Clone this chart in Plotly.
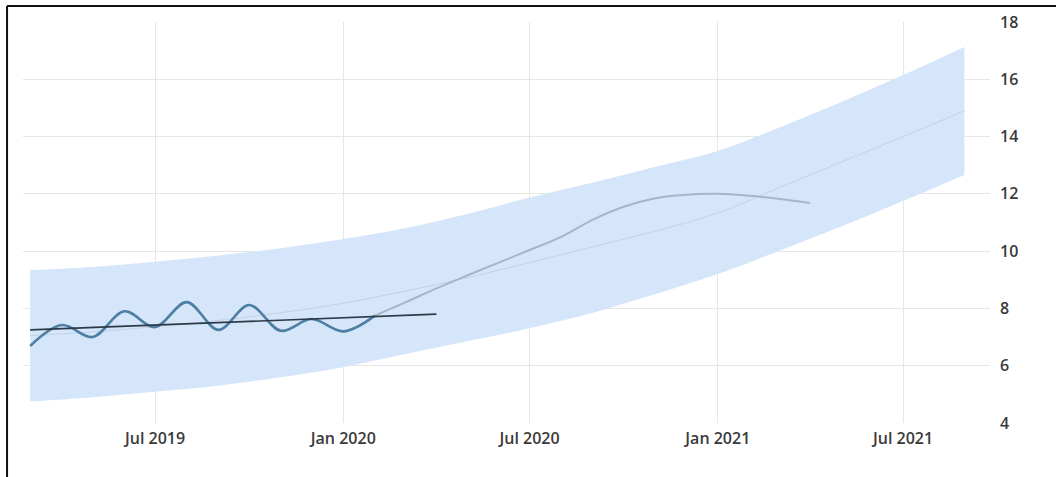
import plotly.graph_objects as go

# Forecast band (upper / centre / lower) sampled every two months
band_dates = ["2019-03-01", "2019-05-01", "2019-07-01", "2019-09-01", "2019-11-01",
              "2020-01-01", "2020-03-01", "2020-05-01", "2020-07-01", "2020-09-01",
              "2020-11-01", "2021-01-01", "2021-03-01", "2021-05-01", "2021-07-01",
              "2021-08-30"]
band_upper = [9.34, 9.45, 9.63, 9.85, 10.1, 10.42, 10.8, 11.3, 11.87, 12.4,
              12.95, 13.5, 14.3, 15.2, 16.15, 17.13]
band_lower = [4.75, 4.9, 5.09, 5.3, 5.6, 5.95, 6.4, 6.85, 7.31, 7.85,
              8.5, 9.2, 10.0, 10.85, 11.75, 12.66]
band_mid = [7.05, 7.18, 7.36, 7.58, 7.85, 8.18, 8.6, 9.07, 9.6, 10.15,
            10.7, 11.33, 12.2, 13.1, 14.0, 14.9]

# Observed monthly series
actual_dates = ["2019-03-01", "2019-04-01", "2019-05-01", "2019-06-01", "2019-07-01",
                "2019-08-01", "2019-09-01", "2019-10-01", "2019-11-01", "2019-12-01",
                "2020-01-01", "2020-02-01"]
actual_vals = [6.69, 7.42, 7.0, 7.9, 7.35, 8.22, 7.25, 8.12, 7.22, 7.63, 7.2, 7.75]

# Projected path
proj_dates = ["2020-02-01", "2020-03-01", "2020-04-01", "2020-05-01", "2020-06-01",
              "2020-07-01", "2020-08-01", "2020-09-01", "2020-10-01", "2020-11-01",
              "2020-12-01", "2021-01-01", "2021-02-01", "2021-03-01", "2021-04-01"]
proj_vals = [7.75, 8.2, 8.7, 9.15, 9.6, 10.04, 10.5, 11.1, 11.55, 11.85,
             11.97, 12.0, 11.93, 11.83, 11.68]

# Linear trend through the observed period
trend_dates = ["2019-03-01", "2020-04-01"]
trend_vals = [7.25, 7.8]

fig = go.Figure()
fig.add_trace(go.Scatter(x=band_dates, y=band_lower, mode="lines",
                         line=dict(width=0, color="rgba(0,0,0,0)", shape="spline"),
                         showlegend=False, hoverinfo="skip"))
fig.add_trace(go.Scatter(x=band_dates, y=band_upper, mode="lines", fill="tonexty",
                         fillcolor="#d6e6fa",
                         line=dict(width=0, color="rgba(0,0,0,0)", shape="spline"),
                         showlegend=False, hoverinfo="skip"))
fig.add_trace(go.Scatter(x=band_dates, y=band_mid, mode="lines",
                         line=dict(width=1, color="#c3d2e3", shape="spline"),
                         showlegend=False))
fig.add_trace(go.Scatter(x=proj_dates, y=proj_vals, mode="lines",
                         line=dict(width=2, color="#a3b6ca", shape="spline"),
                         showlegend=False))
fig.add_trace(go.Scatter(x=actual_dates, y=actual_vals, mode="lines",
                         line=dict(width=2.6, color="#4d7fa2", shape="spline", smoothing=1.0),
                         showlegend=False))
fig.add_trace(go.Scatter(x=trend_dates, y=trend_vals, mode="lines",
                         line=dict(width=1.6, color="#2c3a48"),
                         showlegend=False))

# Left and top frame lines
frame = dict(type="line", xref="paper", yref="paper", line=dict(color="#111111", width=2))
fig.add_shape(**frame, x0=-0.0165, x1=-0.0165, y0=1.04, y1=-0.14)
fig.add_shape(**frame, x0=-0.0165, x1=1.07, y0=1.04, y1=1.04)

tick_font = dict(family="Open Sans", size=16, color="#3a3a3a", weight=600)

fig.update_layout(
    width=1056, height=477,
    margin=dict(l=23, r=66, t=22, b=54),
    paper_bgcolor="white", plot_bgcolor="white",
    font=dict(family="Open Sans", size=16, color="#3a3a3a"),
    xaxis=dict(type="date", range=["2019-02-22", "2021-09-24"],
               tick0="2019-01-01", dtick="M6", tickformat="%b %Y",
               showgrid=True, gridcolor="#e6e6e6", gridwidth=1,
               zeroline=False, showline=False, ticks="", ticklabelstandoff=4,
               tickfont=tick_font),
    yaxis=dict(range=[4, 18], dtick=2, side="right",
               showgrid=True, gridcolor="#e6e6e6", gridwidth=1,
               zeroline=False, showline=False, ticks="", ticklabelstandoff=9,
               tickfont=tick_font),
)

fig.write_html("out.html")
